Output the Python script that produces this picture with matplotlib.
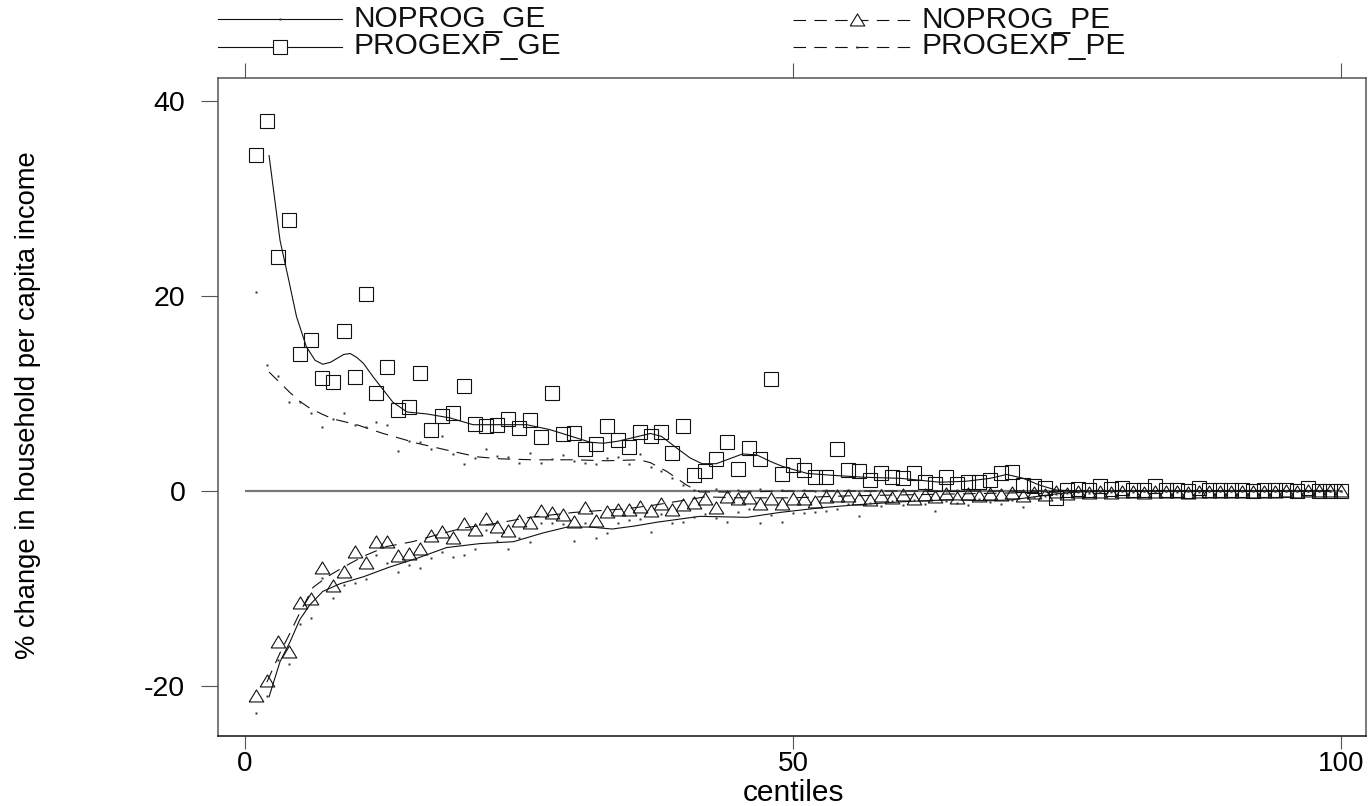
import numpy as np
import matplotlib
matplotlib.use("Agg")
from matplotlib import pyplot as plt
from matplotlib.lines import Line2D

plt.rcParams['font.family'] = ['Liberation Sans', 'DejaVu Sans']
plt.rcParams['lines.scale_dashes'] = False
plt.rcParams['axes.unicode_minus'] = False

centiles = np.arange(1, 101)

# marker values, one per centile
progexp_ge = [
    34.5, 38.0, 24.0, 27.8, 14.1, 15.5, 11.6, 11.2, 16.4, 11.7,
    20.2, 10.0, 12.7, 8.3, 8.6, 12.1, 6.3, 7.7, 8.0, 10.8,
    6.9, 6.7, 6.8, 7.4, 6.5, 7.3, 5.5, 10.1, 5.8, 5.9,
    4.3, 4.8, 6.7, 5.2, 4.5, 6.1, 5.6, 6.0, 3.9, 6.7,
    1.6, 2.1, 3.3, 5.0, 2.3, 4.4, 3.3, 11.5, 1.7, 2.7,
    2.2, 1.4, 1.4, 4.3, 2.2, 2.0, 1.1, 1.8, 1.4, 1.3,
    1.8, 0.9, 0.7, 1.4, 0.7, 0.9, 0.9, 1.1, 1.8, 1.9,
    0.6, 0.5, 0.3, -0.7, 0.1, 0.2, 0.1, 0.5, 0.2, 0.3,
    0.1, 0.1, 0.5, 0.1, 0.1, 0.0, 0.3, 0.1, 0.1, 0.1,
    0.1, 0.0, 0.1, 0.1, 0.1, 0.0, 0.3, 0.0, 0.0, 0.0,
]
noprog_pe = [
    -21.0, -19.5, -15.5, -16.5, -11.5, -11.1, -7.9, -9.7, -8.3, -6.3,
    -7.4, -5.2, -5.2, -6.7, -6.5, -5.9, -4.6, -4.2, -4.8, -3.4,
    -4.0, -2.9, -3.7, -4.1, -3.1, -3.3, -2.1, -2.3, -2.5, -3.2,
    -1.7, -3.1, -2.2, -2.0, -2.0, -1.6, -2.1, -1.3, -1.9, -1.4,
    -1.2, -0.8, -1.7, -0.6, -0.8, -0.7, -1.3, -0.8, -1.3, -0.8,
    -0.8, -1.1, -0.6, -0.5, -0.5, -0.8, -0.9, -0.5, -0.7, -0.4,
    -0.8, -0.4, -0.6, -0.3, -0.7, -0.3, -0.5, -0.3, -0.4, -0.2,
    -0.5, -0.2, -0.4, -0.1, -0.3, -0.1, -0.2, -0.1, -0.2, -0.1,
    -0.1, -0.2, -0.1, -0.1, -0.1, -0.2, -0.1, -0.1, -0.1, -0.1,
    -0.1, -0.1, -0.1, -0.1, 0.0, -0.1, 0.0, 0.0, 0.0, 0.0,
]
progexp_pe = [
    20.4, 12.9, 11.8, 9.1, 9.1, 8.0, 6.6, 7.4, 8.0, 6.8,
    6.6, 7.1, 6.8, 4.1, 5.1, 5.0, 4.3, 5.6, 3.8, 2.8,
    3.4, 4.3, 3.6, 3.5, 2.9, 3.9, 2.9, 3.3, 3.7, 3.1,
    2.9, 2.8, 3.4, 3.5, 2.8, 3.8, 2.5, 2.0, 1.3, 0.6,
    0.1, 0.0, 0.2, -0.1, 0.1, 0.0, 0.2, 0.0, 0.1, 0.0,
    0.1, 0.0, 0.1, 0.0, 0.1, 0.0, 0.0, 0.1, 0.0, 0.0,
    0.0, 0.1, 0.0, 0.0, 0.1, 0.0, 0.0, 0.0, 0.1, 0.0,
    0.0, 0.0, 0.0, 0.0, 0.0, 0.0, 0.0, 0.0, 0.0, 0.0,
    0.0, 0.0, 0.0, 0.0, 0.0, 0.0, 0.0, 0.0, 0.0, 0.0,
    0.0, 0.0, 0.0, 0.0, 0.0, 0.0, 0.0, 0.0, 0.0, 0.0,
]
noprog_ge = [
    -22.8, -21.0, -17.3, -17.7, -13.6, -13.0, -8.9, -11.0, -9.6, -9.4,
    -9.0, -6.6, -7.4, -8.3, -7.6, -7.9, -6.9, -6.3, -6.8, -6.6,
    -5.9, -4.0, -5.1, -5.9, -4.8, -5.2, -3.3, -3.3, -3.4, -5.1,
    -3.3, -4.8, -4.3, -3.3, -3.0, -2.9, -4.2, -2.4, -3.3, -3.2,
    -2.7, -2.4, -2.8, -3.2, -2.2, -1.8, -3.3, -2.5, -3.2, -2.3,
    -2.3, -2.2, -2.1, -1.8, -1.3, -2.6, -1.2, -1.5, -1.0, -1.4,
    -0.9, -1.3, -2.1, -1.0, -1.2, -1.4, -0.8, -1.1, -1.3, -0.9,
    -1.6, -0.6, -0.5, -0.3, -0.2, -0.1, -0.2, -0.1, -0.1, 0.0,
    -0.1, 0.0, -0.1, 0.0, -0.1, 0.0, -0.1, 0.0, 0.0, 0.0,
    0.0, 0.0, 0.0, 0.0, 0.0, 0.0, 0.0, 0.0, 0.0, 0.0,
]

# smoothed lines
progexp_ge_sx = [2.2, 3.2, 4.0, 4.7, 5.6, 6.4, 7.1, 7.8, 8.4, 9.0, 9.6, 10.2,
                 10.8, 11.7, 12.6, 13.5, 14.8, 16.6, 18.7, 20.8, 23.3, 25.7,
                 27.8, 29.8, 31.5, 32.7, 34.0, 35.5, 37.0, 38.0, 39.4, 40.6,
                 41.7, 43.0, 44.2, 45.4, 46.7, 48.0, 49.1, 51.3, 53.7, 56.7,
                 59.8, 63.4, 65.8, 68.0, 69.5, 71.0, 72.5, 74.0, 76.0, 80.0,
                 90.0, 99.0]
progexp_ge_sy = [34.4, 25.7, 21.6, 17.9, 14.8, 13.4, 13.0, 13.2, 13.6, 14.0,
                 14.1, 13.7, 13.1, 11.7, 10.4, 9.1, 8.1, 7.9, 7.5, 6.8, 6.8,
                 6.8, 6.3, 5.6, 5.0, 4.9, 5.1, 5.5, 5.9, 5.6, 4.4, 3.4, 2.8,
                 2.8, 3.3, 3.8, 3.7, 3.0, 2.5, 1.8, 1.6, 1.4, 1.3, 0.9, 1.0,
                 1.3, 1.7, 1.3, 0.6, 0.1, 0.0, 0.0, 0.0, 0.0]

progexp_pe_sx = [2.2, 3.2, 4.1, 5.0, 5.9, 7.0, 8.0, 10.2, 12.6, 15.7, 18.4,
                 21.2, 23.3, 26.3, 30.0, 33.0, 36.0, 37.0, 38.5, 40.3, 41.5,
                 45.0, 50.0, 60.0, 70.0, 80.0, 90.0, 99.0]
progexp_pe_sy = [12.2, 11.1, 10.1, 9.2, 8.5, 7.9, 7.4, 6.8, 5.9, 4.9, 4.2,
                 3.5, 3.3, 3.2, 3.2, 3.1, 3.2, 2.9, 2.0, 0.6, -0.1, -0.1, 0.0,
                 0.0, 0.0, 0.0, 0.0, 0.0]

noprog_pe_sx = [2.0, 3.2, 4.1, 5.0, 6.2, 7.5, 9.0, 10.8, 12.9, 15.3, 17.5,
                19.9, 23.0, 26.0, 30.0, 35.0, 37.6, 42.0, 45.0, 50.0, 55.0,
                60.0, 65.0, 70.0, 75.0, 80.0, 90.0, 99.0]
noprog_pe_sy = [-19.6, -16.6, -14.6, -12.5, -9.9, -8.8, -7.8, -6.7, -5.7,
                -5.2, -4.5, -3.8, -3.3, -2.7, -2.2, -1.8, -1.4, -0.6, -0.7,
                -0.7, -0.5, -0.4, -0.3, -0.2, -0.1, 0.0, 0.0, 0.0]

noprog_ge_sx = [2.2, 3.2, 4.1, 5.0, 5.9, 7.1, 8.7, 10.8, 13.2, 15.7, 18.4,
                21.4, 24.5, 27.2, 29.4, 31.5, 33.5, 35.5, 37.6, 41.5, 45.8,
                48.8, 52.7, 56.0, 60.0, 64.3, 68.0, 70.0, 72.0, 74.0, 76.0,
                80.0, 90.0, 99.0]
noprog_ge_sy = [-21.1, -17.5, -15.5, -13.2, -11.7, -10.3, -9.5, -8.8, -7.8,
                -6.9, -5.8, -5.4, -5.2, -4.3, -3.7, -3.7, -3.9, -3.6, -3.2,
                -2.6, -2.7, -2.2, -1.7, -1.4, -1.1, -0.9, -1.0, -0.9, -0.6,
                -0.3, -0.1, 0.0, 0.0, 0.0]

legend_labels = ['NOPROG_GE', 'NOPROG_PE', 'PROGEXP_GE', 'PROGEXP_PE']
xticks = [0, 50, 100]
yticks = [-20, 0, 20, 40]

W, H = 1368, 806
INK = '#111111'
FRAME = '#555555'
DASH = (0, (9.0, 6.0))
TRI = [(-1, -0.75), (1, -0.75), (0, 0.9), (-1, -0.75)]

fig = plt.figure(figsize=(W / 100, H / 100), dpi=100)
ax = fig.add_axes([218 / W, 1 - 736 / H, (1366 - 218) / W, (736 - 78) / H])
ax.set_xlim(-2.46, 102.28)
ax.set_ylim(-25.13, 42.36)

ax.hlines(0, xticks[0], xticks[-1], color='#777777', lw=1.6, zorder=1)

ax.plot(progexp_ge_sx, progexp_ge_sy, color=INK, lw=0.8, zorder=2)
ax.plot(noprog_ge_sx, noprog_ge_sy, color=INK, lw=0.8, zorder=2)
ax.plot(progexp_pe_sx, progexp_pe_sy, color=INK, lw=0.8, ls=DASH, zorder=2)
ax.plot(noprog_pe_sx, noprog_pe_sy, color=INK, lw=0.8, ls=DASH, zorder=2)

ax.plot(centiles, progexp_ge, ls='none', marker='s', ms=10, mfc='none',
        mec=INK, mew=0.8, zorder=3)
ax.plot(centiles, noprog_pe, ls='none', marker=TRI, ms=10.5, mfc='none',
        mec=INK, mew=0.8, zorder=3)
ax.plot(centiles, progexp_pe, ls='none', marker='s', ms=1.5, mfc='#333333',
        mec='none', zorder=3)
ax.plot(centiles, noprog_ge, ls='none', marker='s', ms=1.5, mfc='#333333',
        mec='none', zorder=3)

for side in ['left', 'top', 'right']:
    ax.spines[side].set_color(FRAME)
    ax.spines[side].set_linewidth(1.1)
ax.spines['bottom'].set_color(INK)
ax.spines['bottom'].set_linewidth(1.1)

ax.set_xticks(xticks)
ax.set_yticks(yticks)
ax.tick_params(axis='x', direction='out', length=9.5, width=0.8, color=FRAME,
               labelsize=20, pad=1.5)
ax.tick_params(axis='y', direction='out', length=12, width=0.8, color=FRAME,
               labelsize=20.5, pad=11.5)
top = ax.secondary_xaxis('top')
top.set_xticks(xticks)
top.tick_params(direction='out', length=11, width=0.8, color=FRAME,
                labeltop=False)
top.spines['top'].set_visible(False)

fig.text(28 / W, 1 - 405 / H, '% change in household per capita income',
         rotation=90, ha='center', va='center', fontsize=19.7)
fig.text(793 / W, 1 - 801 / H, 'centiles', ha='center', va='baseline',
         fontsize=21.5)

# legend drawn in pixel space above the frame
leg = fig.add_axes([0, 0, 1, 1], facecolor='none')
leg.set_xlim(0, W)
leg.set_ylim(H, 0)
leg.axis('off')

rows = [
    (218, 342, 19, 'solid', 's', 1.5, 'dot'),
    (793, 911, 20, DASH, TRI, 10.5, 'open'),
    (218, 342, 47, 'solid', 's', 10, 'open'),
    (793, 911, 47, DASH, 's', 1.5, 'dot'),
]
for (x0, x1, y, style, mk, size, kind), label in zip(rows, legend_labels):
    leg.add_line(Line2D([x0, x1], [y, y], color=INK, lw=0.8, ls=style))
    mid = x0 + (x1 - x0) * 0.5 if x0 < 500 else 857
    if kind == 'open':
        leg.plot([mid], [y], marker=mk, ms=size, mfc='white', mec=INK, mew=0.8)
    else:
        leg.plot([mid], [y], marker=mk, ms=size, mfc='#333333', mec='none')
    leg.text(x1 + 11, y + 8 if y < 30 else y + 7, label, fontsize=21.5,
             ha='left', va='baseline', color=INK)

fig.savefig('out.png', dpi=100)
